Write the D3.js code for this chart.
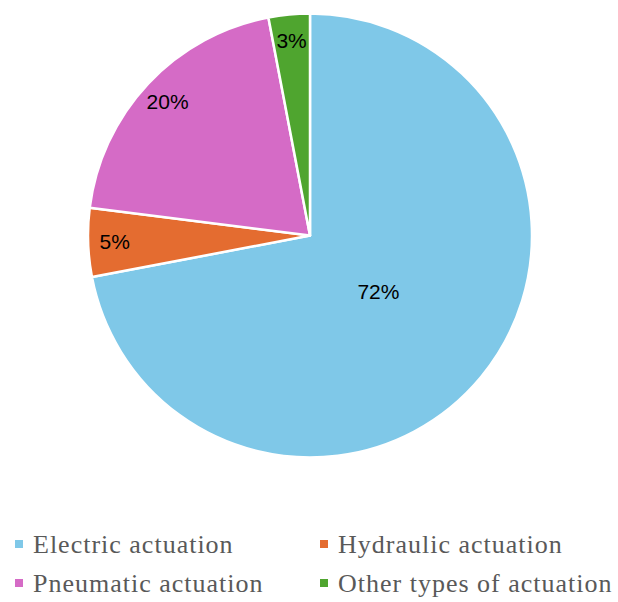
<!DOCTYPE html>
<html>
<head>
<meta charset="utf-8">
<script src="https://cdnjs.cloudflare.com/ajax/libs/d3/7.8.5/d3.min.js"></script>
<style>
  body { margin: 0; background: #fff; }
</style>
</head>
<body>
<svg id="canvas" width="618" height="602"></svg>
<script>
let categories = ['Electric actuation', 'Hydraulic actuation', 'Pneumatic actuation', 'Other types of actuation']
let shares = [72, 5, 20, 3]
let colors = ['#7fc8e8', '#e46c30', '#d56bc6', '#4fa52f']

let canvas = d3.select('#canvas')

let cx = 310
let cy = 235.5
let radius = 222

let slices = d3.pie()
               .sort(null)
               .value((d) => d.value)(categories.map((name, i) => {
                   return { name: name, value: shares[i], color: colors[i] }
               }))

let arc = d3.arc().innerRadius(0).outerRadius(radius)

let pieGroup = canvas.append('g')
                     .attr('transform', 'translate(' + cx + ', ' + cy + ')')

pieGroup.selectAll('path')
        .data(slices)
        .enter()
        .append('path')
        .attr('d', arc)
        .attr('fill', (s) => s.data.color)
        .attr('stroke', '#fff')
        .attr('stroke-width', 2.5)
        .attr('stroke-linejoin', 'round')

// big slice gets its label near the middle, small ones near the rim
pieGroup.selectAll('text')
        .data(slices)
        .enter()
        .append('text')
        .attr('transform', (s) => {
            let r = s.data.value > 50 ? radius * 0.4 : radius * 0.88
            let mid = (s.startAngle + s.endAngle) / 2
            return 'translate(' + (r * Math.sin(mid)) + ', ' + (-r * Math.cos(mid)) + ')'
        })
        .attr('text-anchor', 'middle')
        .attr('dy', '0.35em')
        .style('font-family', 'Liberation Sans, Arial, sans-serif')
        .style('font-size', '21px')
        .attr('fill', '#000')
        .text((s) => s.data.value + '%')

// legend, two columns
let legendX = d3.scaleOrdinal().domain([0, 1]).range([15, 320])
let legendY = d3.scaleOrdinal().domain([0, 1]).range([544, 583])

let legend = canvas.selectAll('.legend')
                   .data(slices)
                   .enter()
                   .append('g')
                   .attr('class', 'legend')
                   .attr('transform', (s, i) => {
                       return 'translate(' + legendX(i % 2) + ', ' + legendY(Math.floor(i / 2)) + ')'
                   })

legend.append('rect')
      .attr('x', 0)
      .attr('y', -4)
      .attr('width', 8)
      .attr('height', 8)
      .attr('fill', (s) => s.data.color)

legend.append('text')
      .attr('x', 18)
      .attr('dy', '0.35em')
      .style('font-family', 'Liberation Serif, Times New Roman, serif')
      .style('font-size', '26px')
      .style('letter-spacing', '1px')
      .attr('fill', '#595959')
      .text((s) => s.data.name)
</script>
</body>
</html>
